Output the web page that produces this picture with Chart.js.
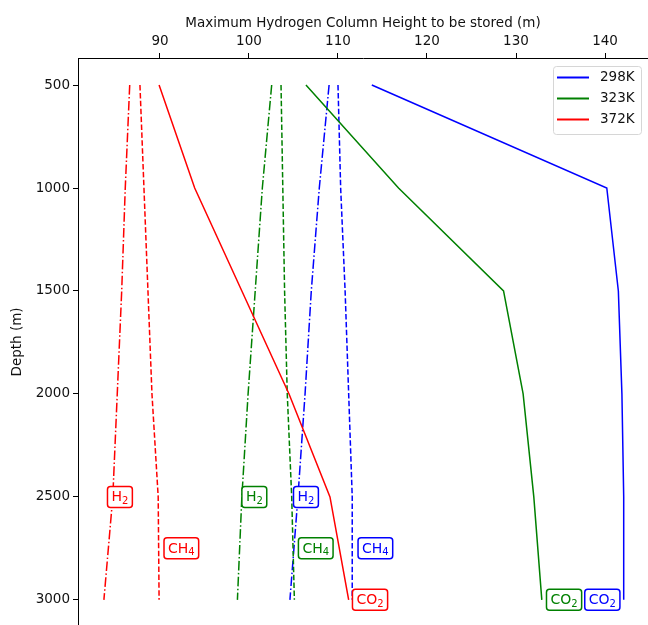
<!DOCTYPE html>
<html>
<head>
<meta charset="utf-8">
<script src="https://cdn.jsdelivr.net/npm/chart.js@4"></script>
<style>
  html, body { margin: 0; padding: 0; background: #fff; overflow: hidden; }
  #wrap { width: 648px; height: 625px; overflow: hidden; }
</style>
</head>
<body>
<div id="wrap"><canvas id="depthChart" width="648" height="637"></canvas></div>
<script>
'use strict';
// Depths (m) shared by every curve
const depths = [500, 1000, 1500, 2000, 2500, 3000];

// Max H2 column height (m), per cushion gas and temperature
const co2_298 = [113.8, 140.2, 141.5, 141.9, 142.1, 142.1];
const co2_323 = [106.4, 116.8, 128.6, 130.8, 132.0, 132.9];
const co2_372 = [89.9, 93.9, 99.2, 104.5, 109.1, 111.2];
const ch4_298 = [110.0, 110.3, 110.8, 111.2, 111.6, 111.6];
const ch4_323 = [103.6, 103.8, 104.0, 104.3, 104.8, 105.1];
const ch4_372 = [87.75, 88.2, 88.65, 89.1, 89.8, 89.9];
const h2_298 = [109.0, 107.9, 107.0, 106.3, 105.5, 104.6];
const h2_323 = [102.55, 101.5, 100.7, 99.9, 99.2, 98.7];
const h2_372 = [86.6, 86.1, 85.7, 85.2, 84.7, 83.7];

const temps = ['298K', '323K', '372K'];
const xTicks = [90, 100, 110, 120, 130, 140];
const yTicks = [500, 1000, 1500, 2000, 2500, 3000];

// Gas labels placed on the plot (data coordinates): formula + subscript
const noteBase = ['H', 'H', 'H', 'CH', 'CH', 'CH', 'CO', 'CO', 'CO'];
const noteSub = ['2', '2', '2', '4', '4', '4', '2', '2', '2'];
const noteTemp = [2, 1, 0, 2, 1, 0, 2, 1, 0];
const noteX = [85.5, 100.6, 106.4, 92.4, 107.5, 114.2, 113.6, 135.4, 139.7];
const noteDepth = [2500, 2500, 2500, 2750, 2750, 2750, 3000, 3000, 3000];

const colors = ['#0000ff', '#008000', '#ff0000'];
const FONT = '"DejaVu Sans", sans-serif';

function pts(values) {
  return values.map(function (v, i) { return { x: v, y: depths[i] }; });
}

function series(values, t, dash, legend) {
  return {
    label: legend ? temps[t] : '',
    data: pts(values),
    borderColor: colors[t],
    backgroundColor: colors[t],
    borderWidth: 1.5,
    borderDash: dash,
    pointRadius: 0,
    tension: 0,
    showInLegend: legend
  };
}

const solid = [];
const dashed = [5.5, 2.4];
const dashDot = [9.6, 2.4, 1.5, 2.4];

const datasets = [
  series(co2_298, 0, solid, true),
  series(co2_323, 1, solid, true),
  series(co2_372, 2, solid, true),
  series(ch4_298, 0, dashed, false),
  series(ch4_323, 1, dashed, false),
  series(ch4_372, 2, dashed, false),
  series(h2_298, 0, dashDot, false),
  series(h2_323, 1, dashDot, false),
  series(h2_372, 2, dashDot, false)
];

// Boxed gas labels
const notesPlugin = {
  id: 'notes',
  afterDatasetsDraw(chart) {
    const ctx = chart.ctx;
    const xs = chart.scales.x, ys = chart.scales.y;
    const mainFont = '14px ' + FONT, subFont = '10px ' + FONT;
    ctx.save();
    ctx.textAlign = 'left';
    ctx.textBaseline = 'alphabetic';
    noteBase.forEach(function (txt, i) {
      const cx = xs.getPixelForValue(noteX[i]);
      const cy = ys.getPixelForValue(noteDepth[i]);
      ctx.font = mainFont;
      const wMain = ctx.measureText(txt).width;
      ctx.font = subFont;
      const wSub = ctx.measureText(noteSub[i]).width;
      const tw = wMain + wSub;
      const w = tw + 8;
      const h = 21;
      const c = colors[noteTemp[i]];
      ctx.beginPath();
      ctx.roundRect(cx - w / 2, cy - h / 2, w, h, 3);
      ctx.fillStyle = '#fff';
      ctx.fill();
      ctx.lineWidth = 1.5;
      ctx.strokeStyle = c;
      ctx.stroke();
      ctx.fillStyle = c;
      const tx = cx - tw / 2;
      const base = cy + 4.5;
      ctx.font = mainFont;
      ctx.fillText(txt, tx, base);
      ctx.font = subFont;
      ctx.fillText(noteSub[i], tx + wMain, base + 2.5);
    });
    ctx.restore();
  }
};

// Legend box in the top right corner
const legendPlugin = {
  id: 'boxLegend',
  afterDraw(chart) {
    const ctx = chart.ctx;
    const items = chart.data.datasets.filter(function (d) { return d.showInLegend; });
    const x0 = 553, y0 = 66, w = 88, h = 68;
    ctx.save();
    ctx.beginPath();
    ctx.roundRect(x0 + 0.5, y0 + 0.5, w, h, 3);
    ctx.fillStyle = 'rgba(255,255,255,0.8)';
    ctx.fill();
    ctx.strokeStyle = '#d6d6d6';
    ctx.lineWidth = 1;
    ctx.stroke();
    ctx.font = '13.5px ' + FONT;
    ctx.textBaseline = 'middle';
    ctx.textAlign = 'left';
    items.forEach(function (d, i) {
      const yy = y0 + 11.5 + i * 21;
      ctx.beginPath();
      ctx.moveTo(x0 + 4, yy);
      ctx.lineTo(x0 + 36, yy);
      ctx.strokeStyle = d.borderColor;
      ctx.lineWidth = 2;
      ctx.stroke();
      ctx.fillStyle = '#111';
      ctx.fillText(d.label, x0 + 47, yy);
    });
    ctx.restore();
  }
};

new Chart(document.getElementById('depthChart'), {
  type: 'line',
  data: { datasets: datasets },
  plugins: [notesPlugin, legendPlugin],
  options: {
    responsive: false,
    animation: false,
    layout: { padding: 0 },
    plugins: {
      legend: { display: false },
      tooltip: { enabled: false }
    },
    scales: {
      x: {
        type: 'linear',
        position: 'top',
        min: 80.79,
        max: 144.83,
        afterBuildTicks: function (s) { s.ticks = xTicks.map(function (v) { return { value: v }; }); },
        afterFit: function (s) { s.height = 58; },
        border: { color: '#000', width: 1 },
        grid: { drawOnChartArea: false, drawTicks: true, tickLength: 5, color: '#000' },
        ticks: {
          color: '#111', font: { family: FONT, size: 13.5 }, padding: 3, maxRotation: 0,
          callback: function (v) { return String(v); }
        },
        title: {
          display: true,
          text: 'Maximum Hydrogen Column Height to be stored (m)',
          color: '#111',
          font: { family: FONT, size: 13.5 },
          padding: { top: 15, bottom: 2 }
        }
      },
      y: {
        type: 'linear',
        reverse: true,
        min: 368.7,
        max: 3126.5,
        afterBuildTicks: function (s) { s.ticks = yTicks.map(function (v) { return { value: v }; }); },
        afterFit: function (s) { s.width = 78; },
        border: { color: '#000', width: 1 },
        grid: { drawOnChartArea: false, drawTicks: true, tickLength: 5, color: '#000' },
        ticks: {
          color: '#111', font: { family: FONT, size: 13.5 }, padding: 3,
          callback: function (v) { return String(v); }
        },
        title: {
          display: true,
          text: 'Depth (m)',
          color: '#111',
          font: { family: FONT, size: 13.5 },
          padding: { top: 9, bottom: 4 }
        }
      }
    }
  }
});
</script>
</body>
</html>
